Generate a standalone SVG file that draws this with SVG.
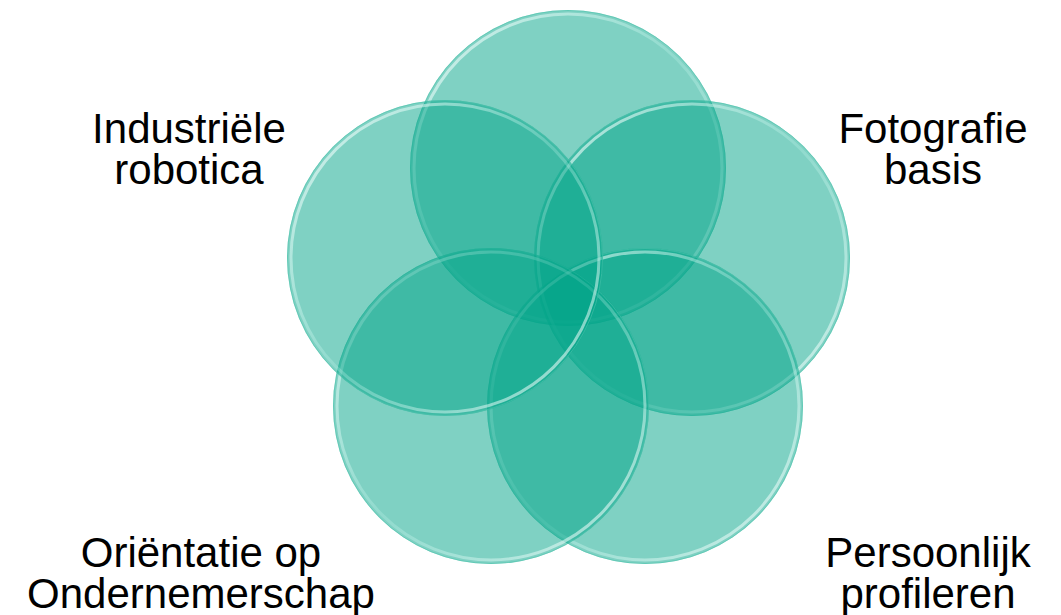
<svg xmlns="http://www.w3.org/2000/svg" width="1061" height="615" viewBox="0 0 1061 615">
  <style>
    .disc { fill: #00A387; fill-opacity: 0.5; }
    .edge { fill: none; stroke: #4fc4ae; stroke-width: 1; stroke-opacity: 0.6; }
    .rim { fill: none; stroke: url(#rimGrad); stroke-width: 3; }
    .lbl { font-family: "Liberation Sans", Arial, sans-serif; font-size: 42px; fill: #000000; text-anchor: middle; }
  </style>
  <defs>
    <linearGradient id="rimGrad" x1="0" y1="0" x2="1" y2="1">
      <stop offset="0" stop-color="#ffffff" stop-opacity="0.75"/>
      <stop offset="0.5" stop-color="#c6f7ee" stop-opacity="0.25"/>
      <stop offset="1" stop-color="#ffffff" stop-opacity="0.7"/>
    </linearGradient>
  </defs>
  <rect width="1061" height="615" fill="#ffffff"/>
  <g id="circle-top">
    <circle class="disc" cx="568" cy="168" r="158"/>
    <circle class="edge" cx="568" cy="168" r="157.5"/>
    <circle class="rim" cx="568" cy="168" r="154"/>
  </g>
  <g id="circle-right">
    <circle class="disc" cx="692" cy="258" r="158"/>
    <circle class="edge" cx="692" cy="258" r="157.5"/>
    <circle class="rim" cx="692" cy="258" r="154"/>
  </g>
  <g id="circle-bottom-right">
    <circle class="disc" cx="645" cy="406" r="158"/>
    <circle class="edge" cx="645" cy="406" r="157.5"/>
    <circle class="rim" cx="645" cy="406" r="154"/>
  </g>
  <g id="circle-bottom-left">
    <circle class="disc" cx="491" cy="406" r="158"/>
    <circle class="edge" cx="491" cy="406" r="157.5"/>
    <circle class="rim" cx="491" cy="406" r="154"/>
  </g>
  <g id="circle-left">
    <circle class="disc" cx="445" cy="258" r="158"/>
    <circle class="edge" cx="445" cy="258" r="157.5"/>
    <circle class="rim" cx="445" cy="258" r="154"/>
  </g>
  <g id="connectors"></g>
  <g id="label-industriele">
    <text class="lbl" x="189" y="143">Industriële</text>
    <text class="lbl" x="189" y="184">robotica</text>
  </g>
  <g id="label-fotografie">
    <text class="lbl" x="933" y="143">Fotografie</text>
    <text class="lbl" x="933" y="184">basis</text>
  </g>
  <g id="label-orientatie">
    <text class="lbl" x="201" y="567">Oriëntatie op</text>
    <text class="lbl" x="201" y="608">Ondernemerschap</text>
  </g>
  <g id="label-persoonlijk">
    <text class="lbl" x="928" y="567">Persoonlijk</text>
    <text class="lbl" x="928" y="608">profileren</text>
  </g>
</svg>
